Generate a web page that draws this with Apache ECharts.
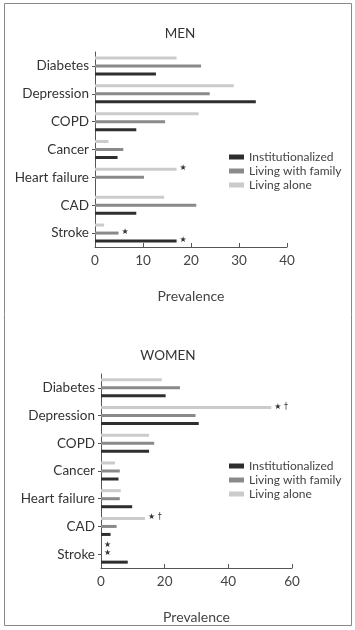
<!DOCTYPE html>
<html>
<head>
<meta charset="utf-8">
<script src="https://cdn.jsdelivr.net/npm/echarts@6/dist/echarts.min.js"></script>
<style>
  html, body { margin: 0; padding: 0; background: #fff; }
  #main { width: 355px; height: 630px; }
</style>
</head>
<body>
<div id="main"></div>
<script>
// 数据
const categories = ['Diabetes', 'Depression', 'COPD', 'Cancer', 'Heart failure', 'CAD', 'Stroke']
const legendNames = ['Institutionalized', 'Living with family', 'Living alone']

const menInst = [12.7, 33.5, 8.6, 4.7, 0, 8.6, 17.0]
const menFamily = [22.1, 23.9, 14.6, 5.9, 10.2, 21.1, 4.9]
const menAlone = [17.0, 28.9, 21.6, 2.8, 17.0, 14.4, 1.9]
const menInstMarks = ['', '', '', '', '', '', '\u2605']
const menFamilyMarks = ['', '', '', '', '', '', '\u2605']
const menAloneMarks = ['', '', '', '', '\u2605', '', '']

const womenInst = [20.3, 30.7, 15.1, 5.5, 9.8, 3.0, 8.4]
const womenFamily = [24.8, 29.7, 16.7, 5.9, 5.9, 4.9, 0]
const womenAlone = [19.1, 53.5, 15.1, 4.4, 6.2, 13.8, 0]
const womenInstMarks = ['', '', '', '', '', '', '']
const womenFamilyMarks = ['', '', '', '', '', '', '\u2605']
const womenAloneMarks = ['', '\u2605 \u2020', '', '', '', '\u2605 \u2020', '\u2605']

const menTicks = [0, 40, 10]
const womenTicks = [0, 60, 20]

const colors = { inst: '#2e2e2e', family: '#8a8a8a', alone: '#cbcbcb' }
const font = 'Lato'

const withMarks = (values, marks) =>
  values.map((v, i) => ({
    value: v,
    label: { show: !!marks[i], formatter: marks[i] },
  }))

const makeSeries = (name, values, marks, color, idx) => ({
  name,
  type: 'bar',
  xAxisIndex: idx,
  yAxisIndex: idx,
  data: withMarks(values, marks),
  barWidth: 3,
  barGap: '167%',
  itemStyle: { color },
  label: {
    position: 'right',
    distance: 3,
    fontSize: 8,
    color: '#333',
    fontFamily: 'DejaVu Sans',
    offset: [0, -1],
  },
  emphasis: { disabled: true },
})

const makeX = (ticks, idx) => ({
  type: 'value',
  gridIndex: idx,
  min: ticks[0],
  max: ticks[1],
  interval: ticks[2],
  name: 'Prevalence',
  nameLocation: 'middle',
  nameGap: 42,
  nameTextStyle: { fontSize: 14, color: '#444', fontFamily: font },
  axisLine: { show: true, lineStyle: { color: '#555' } },
  axisTick: { show: true, inside: true, length: 4, lineStyle: { color: '#555' } },
  axisLabel: { fontSize: 13.5, color: '#444', margin: 7, fontFamily: font },
  splitLine: { show: false },
})

const makeY = (idx) => ({
  type: 'category',
  gridIndex: idx,
  data: categories,
  inverse: true,
  axisLine: { show: true, lineStyle: { color: '#555' } },
  axisTick: { show: true, alignWithLabel: true, length: 3, lineStyle: { color: '#555' } },
  axisLabel: { fontSize: 13.5, color: '#333', margin: 6, fontFamily: font },
})

const makeLegend = (top) => ({
  data: legendNames,
  orient: 'vertical',
  left: 224,
  top,
  itemWidth: 15,
  itemHeight: 5,
  itemGap: 2,
  icon: 'rect',
  selectedMode: false,
  textStyle: { fontSize: 12, color: '#444', fontFamily: font },
})

const chart = echarts.init(document.getElementById('main'))
const option = {
  animation: false,
  title: [
    { text: 'MEN', left: 175, top: 22, textAlign: 'center', textStyle: { fontSize: 13.5, fontWeight: 'normal', color: '#333', fontFamily: font } },
    { text: 'WOMEN', left: 163, top: 344, textAlign: 'center', textStyle: { fontSize: 13.5, fontWeight: 'normal', color: '#333', fontFamily: font } },
  ],
  graphic: [
    {
      type: 'rect',
      shape: { x: 4.5, y: 3.5, width: 347, height: 622 },
      style: { fill: 'none', stroke: '#888', lineWidth: 1 },
      silent: true,
    },
  ],
  legend: [makeLegend(146), makeLegend(455)],
  grid: [
    { left: 95, top: 52, width: 192, height: 195 },
    { left: 101, top: 374, width: 191, height: 194 },
  ],
  xAxis: [makeX(menTicks, 0), makeX(womenTicks, 1)],
  yAxis: [makeY(0), makeY(1)],
  series: [
    makeSeries('Living alone', menAlone, menAloneMarks, colors.alone, 0),
    makeSeries('Living with family', menFamily, menFamilyMarks, colors.family, 0),
    makeSeries('Institutionalized', menInst, menInstMarks, colors.inst, 0),
    makeSeries('Living alone', womenAlone, womenAloneMarks, colors.alone, 1),
    makeSeries('Living with family', womenFamily, womenFamilyMarks, colors.family, 1),
    makeSeries('Institutionalized', womenInst, womenInstMarks, colors.inst, 1),
  ],
}
option && chart.setOption(option)
</script>
</body>
</html>
